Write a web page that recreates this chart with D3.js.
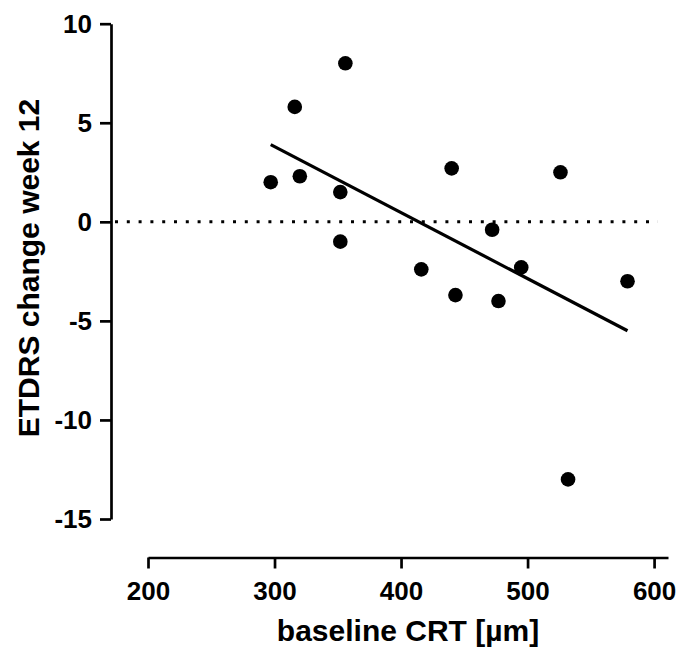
<!DOCTYPE html>
<html>
<head>
<meta charset="utf-8">
<script src="https://cdn.jsdelivr.net/npm/d3@7"></script>
<style>
  body { margin: 0; background: #fff; }
  svg text { font-family: "Liberation Sans", Arial, sans-serif; font-weight: bold; fill: #000; }
</style>
</head>
<body>
<svg width="678" height="652"></svg>
<script>
// baseline CRT (µm) and ETDRS change at week 12
const crt   = [297, 316, 320, 352, 352, 356, 416, 440, 443, 472, 477, 495, 526, 532, 579];
const etdrs = [2.0, 5.8, 2.3, 1.5, -1.0, 8.0, -2.4, 2.7, -3.7, -0.4, -4.0, -2.3, 2.5, -13.0, -3.0];

// regression line end points
const fitX = [297, 579];
const fitY = [3.9, -5.5];

const xTicks = [200, 300, 400, 500, 600];
const yTicks = [-15, -10, -5, 0, 5, 10];

const svg = d3.select("svg");

const x = d3.scaleLinear().domain([200, 611]).range([148, 668]);
const y = d3.scaleLinear().domain([-15, 10]).range([519, 23.7]);

const yAxisX = 111;
const xAxisY = 557.5;

// plain hyphen for negatives, like the original
const fmt = d => String(d);

// x axis
const xAxisG = svg.append('g')
    .attr('transform', `translate(0, ${xAxisY})`)
    .call(d3.axisBottom(x).tickValues(xTicks).tickFormat(fmt)
        .tickSize(11).tickSizeOuter(0).tickPadding(13));

// y axis
const yAxisG = svg.append('g')
    .attr('transform', `translate(${yAxisX}, 0)`)
    .call(d3.axisLeft(y).tickValues(yTicks).tickFormat(fmt)
        .tickSize(11).tickSizeOuter(0).tickPadding(8));

[xAxisG, yAxisG].forEach(g => {
    g.selectAll('path, line').attr('stroke', '#000').attr('stroke-width', 2.7);
    g.selectAll('text').style('font-size', '26px');
});

// zero reference line
svg.append('line')
    .attr('x1', yAxisX + 4)
    .attr('x2', x(603))
    .attr('y1', y(0))
    .attr('y2', y(0))
    .attr('stroke', '#000')
    .attr('stroke-width', 3)
    .attr('stroke-dasharray', '3 8.8');

// regression line
svg.append('line')
    .attr('x1', x(fitX[0]))
    .attr('y1', y(fitY[0]))
    .attr('x2', x(fitX[1]))
    .attr('y2', y(fitY[1]))
    .attr('stroke', '#000')
    .attr('stroke-width', 3.2);

svg.selectAll('circle').data(crt)
    .enter().append('circle')
        .attr('cx', d => x(d))
        .attr('cy', (d, i) => y(etdrs[i]))
        .attr('r', 7.3)
        .attr('fill', '#000');

// axis titles
svg.append('text')
    .attr('x', 408)
    .attr('y', 641)
    .attr('text-anchor', 'middle')
    .style('font-size', '30px')
    .text('baseline CRT [µm]');

svg.append('text')
    .attr('transform', 'translate(39, 268) rotate(-90)')
    .attr('text-anchor', 'middle')
    .style('font-size', '30px')
    .text('ETDRS change week 12');
</script>
</body>
</html>
